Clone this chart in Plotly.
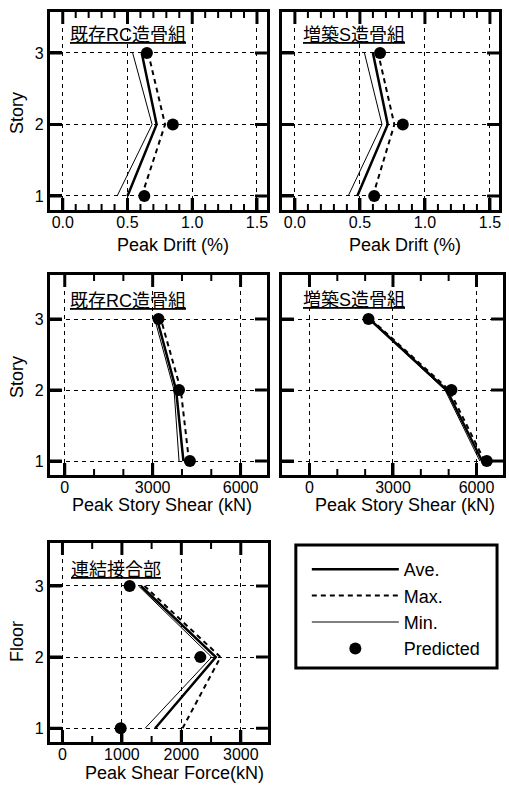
import numpy as np
import plotly.graph_objects as go

W, H = 509, 788

stories = [1, 2, 3]

# Panel 1: existing RC frame, peak drift (%)
drift_rc_ave = [0.50, 0.725, 0.61]
drift_rc_max = [0.61, 0.79, 0.66]
drift_rc_min = [0.42, 0.69, 0.54]
drift_rc_pred = [0.63, 0.85, 0.65]

# Panel 2: added S frame, peak drift (%)
drift_s_ave = [0.48, 0.714, 0.60]
drift_s_max = [0.60, 0.765, 0.64]
drift_s_min = [0.41, 0.67, 0.535]
drift_s_pred = [0.61, 0.83, 0.655]

# Panel 3: existing RC frame, peak story shear (kN)
shear_rc_ave = [4050, 3800, 3150]
shear_rc_max = [4240, 3960, 3280]
shear_rc_min = [3900, 3730, 3070]
shear_rc_pred = [4270, 3900, 3200]

# Panel 4: added S frame, peak story shear (kN)
shear_s_ave = [6200, 4930, 2150]
shear_s_max = [6290, 5020, 2200]
shear_s_min = [6120, 4870, 2130]
shear_s_pred = [6370, 5100, 2120]

# Panel 5: connection, peak shear force (kN)
conn_ave = [1560, 2580, 1320]
conn_max = [2020, 2660, 1380]
conn_min = [1390, 2510, 1280]
conn_pred = [980, 2320, 1130]

panel_labels = ["既存RC造骨組", "増築S造骨組", "既存RC造骨組", "増築S造骨組", "連結接合部"]
x_titles = ["Peak Drift (%)", "Peak Drift (%)", "Peak Story Shear (kN)", "Peak Story Shear (kN)", "Peak Shear Force(kN)"]
y_titles = ["Story", "Story", "Floor"]
legend_names = ["Ave.", "Max.", "Min.", "Predicted"]

FONT = "Liberation Sans, Arial, Noto Sans CJK JP, sans-serif"


def fx(p):
    return p / W


def fy(p):
    return 1 - p / H


panels = [
    dict(data=(drift_rc_ave, drift_rc_max, drift_rc_min, drift_rc_pred),
         dom=(50, 268, 12, 210), xr=[-0.1, 1.577], yr=[0.804, 3.573],
         dtick=0.5, minor=0.1, tickformat=".1f", ylab=True),
    dict(data=(drift_s_ave, drift_s_max, drift_s_min, drift_s_pred),
         dom=(283, 501, 12, 210), xr=[-0.1, 1.57], yr=[0.804, 3.573],
         dtick=0.5, minor=0.1, tickformat=".1f", ylab=False),
    dict(data=(shear_rc_ave, shear_rc_max, shear_rc_min, shear_rc_pred),
         dom=(50, 268, 275, 475), xr=[-510, 6900], yr=[0.803, 3.62],
         dtick=3000, minor=1000, tickformat="d", ylab=True),
    dict(data=(shear_s_ave, shear_s_max, shear_s_min, shear_s_pred),
         dom=(283, 505, 275, 475), xr=[-991, 6953], yr=[0.803, 3.62],
         dtick=3000, minor=1000, tickformat="d", ylab=False),
    dict(data=(conn_ave, conn_max, conn_min, conn_pred),
         dom=(50, 269, 543, 742), xr=[-213, 3457], yr=[0.807, 3.604],
         dtick=1000, minor=500, tickformat="d", ylab=True),
]

fig = go.Figure()
layout = {}

MAJ_LEN, MAJ_W = 12, 3
MIN_LEN, MIN_W = 6, 2

for i, p in enumerate(panels):
    n = "" if i == 0 else str(i + 1)
    ave, mx, mn, pred = p["data"]
    xa, ya = "x" + n, "y" + n
    show = i == 0
    x0, x1, y0, y1 = p["dom"]
    xlo, xhi = p["xr"]
    ylo, yhi = p["yr"]
    ux = (xhi - xlo) / (x1 - x0)
    uy = (yhi - ylo) / (y1 - y0)

    # frame tick marks (axis decoration), placed at axis values
    vals = np.arange(0, xhi + 1e-9, p["minor"])
    vals = vals[vals >= xlo]
    maj_x, maj_y, min_x, min_y = [], [], [], []
    for v in vals:
        is_major = abs(v / p["dtick"] - round(v / p["dtick"])) < 1e-6
        ln = MAJ_LEN if is_major else MIN_LEN
        tx, ty = (maj_x, maj_y) if is_major else (min_x, min_y)
        for base, sgn in ((ylo, 1), (yhi, -1)):
            tx += [v, v, None]
            ty += [base, base + sgn * ln * uy, None]
    for v in stories:
        for base, sgn in ((xlo, 1), (xhi, -1)):
            maj_x += [base, base + sgn * MAJ_LEN * ux, None]
            maj_y += [v, v, None]
    fig.add_trace(go.Scatter(x=min_x, y=min_y, mode="lines", line=dict(color="black", width=MIN_W),
                             xaxis=xa, yaxis=ya, showlegend=False, hoverinfo="skip"))
    fig.add_trace(go.Scatter(x=maj_x, y=maj_y, mode="lines", line=dict(color="black", width=MAJ_W),
                             xaxis=xa, yaxis=ya, showlegend=False, hoverinfo="skip"))

    fig.add_trace(go.Scatter(x=ave, y=stories, mode="lines", name=legend_names[0],
                             line=dict(color="black", width=2.5), xaxis=xa, yaxis=ya,
                             showlegend=show, legendgroup="a"))
    fig.add_trace(go.Scatter(x=mx, y=stories, mode="lines", name=legend_names[1],
                             line=dict(color="black", width=2, dash="5px,4px"), xaxis=xa, yaxis=ya,
                             showlegend=show, legendgroup="b"))
    fig.add_trace(go.Scatter(x=mn, y=stories, mode="lines", name=legend_names[2],
                             line=dict(color="black", width=1), xaxis=xa, yaxis=ya,
                             showlegend=show, legendgroup="c"))
    fig.add_trace(go.Scatter(x=pred, y=stories, mode="markers", name=legend_names[3],
                             marker=dict(color="black", size=12), xaxis=xa, yaxis=ya,
                             showlegend=show, legendgroup="d"))
    common = dict(showline=True, linewidth=3, linecolor="black", mirror=True,
                  ticks="inside", ticklen=MAJ_LEN, tickwidth=MAJ_W, tickcolor="black",
                  showgrid=True, gridcolor="black", gridwidth=1, griddash="4px,4px",
                  zeroline=False, tickfont=dict(family=FONT, size=16, color="black"))
    layout["xaxis" + n] = dict(common, domain=[fx(x0), fx(x1)], range=p["xr"],
                               anchor=ya, tick0=0, dtick=p["dtick"], tickformat=p["tickformat"],
                               ticklabelstandoff=-4)
    layout["yaxis" + n] = dict(common, domain=[fy(y1), fy(y0)], range=p["yr"],
                               anchor=xa, tickvals=stories, showticklabels=p["ylab"])

annotations = []
label_pos = [(68, 35), (302, 35), (68, 301), (302, 300), (69, 570)]
for (lx, ly), txt in zip(label_pos, panel_labels):
    annotations.append(dict(text="<u>" + txt + "</u>", x=fx(lx), y=fy(ly), xref="paper", yref="paper",
                            xanchor="left", yanchor="middle", showarrow=False,
                            font=dict(family=FONT, size=18, color="black")))
xt_pos = [(174, 245), (407, 245), (163, 505), (407, 505), (175, 773)]
for (tx, ty), txt in zip(xt_pos, x_titles):
    annotations.append(dict(text=txt, x=fx(tx), y=fy(ty), xref="paper", yref="paper",
                            xanchor="center", yanchor="middle", showarrow=False,
                            font=dict(family=FONT, size=18, color="black")))
yt_pos = [(17, 113), (17, 377), (17, 641)]
for (tx, ty), txt in zip(yt_pos, y_titles):
    annotations.append(dict(text=txt, x=fx(tx), y=fy(ty), xref="paper", yref="paper",
                            xanchor="center", yanchor="middle", showarrow=False, textangle=-90,
                            font=dict(family=FONT, size=18, color="black")))

# legend frame
shapes = [dict(type="rect", xref="paper", yref="paper", x0=fx(297), x1=fx(499), y0=fy(668), y1=fy(545),
               line=dict(color="black", width=3), fillcolor="rgba(0,0,0,0)")]

fig.update_layout(
    **layout,
    width=W, height=H, autosize=False,
    margin=dict(l=0, r=0, t=0, b=0),
    paper_bgcolor="white", plot_bgcolor="white",
    annotations=annotations, shapes=shapes,
    font=dict(family=FONT, color="black"),
    legend=dict(x=fx(298), y=fy(551), xanchor="left", yanchor="top",
                borderwidth=0, bgcolor="rgba(0,0,0,0)", indentation=10,
                font=dict(family=FONT, size=18, color="black"),
                itemwidth=87, tracegroupgap=3, traceorder="normal"),
)

fig.write_html("out.html", config={"displayModeBar": False},
               post_script="document.body.style.margin='0';")
